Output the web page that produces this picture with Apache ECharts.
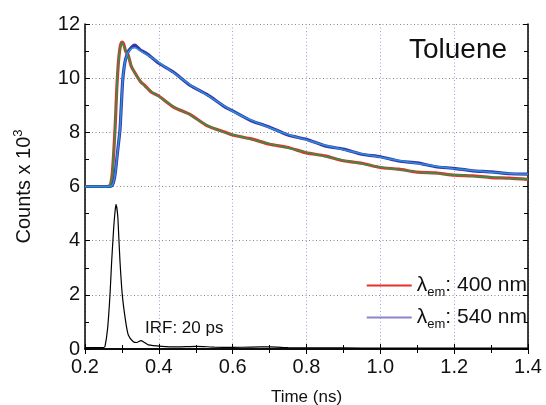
<!DOCTYPE html>
<html>
<head>
<meta charset="utf-8">
<script src="https://cdn.jsdelivr.net/npm/echarts@6/dist/echarts.min.js"></script>
<style>html,body{margin:0;padding:0;background:#fff;}#c{width:546px;height:405px;}</style>
</head>
<body>
<div id="c"></div>
<script>
// Emission at 400 nm: fit (green) and data (red)
var t400 = [0.20, 0.26, 0.266, 0.270, 0.274, 0.278, 0.282, 0.286, 0.290, 0.294, 0.298, 0.301, 0.305, 0.310, 0.317, 0.325, 0.335, 0.35, 0.3625, 0.38, 0.40, 0.44, 0.4844, 0.53, 0.58, 0.60, 0.65, 0.70, 0.75, 0.80, 0.85, 0.90, 0.95, 1.00, 1.05, 1.10, 1.15, 1.20, 1.25, 1.30, 1.35, 1.40];
var fit400 = [6.0, 6.0, 6.02, 6.12, 6.5, 7.3, 8.3, 9.6, 10.5, 11.0, 11.27, 11.31, 11.2, 11.02, 10.8, 10.5, 10.18, 9.9, 9.69, 9.5, 9.32, 8.95, 8.64, 8.27, 7.98, 7.92, 7.74, 7.58, 7.42, 7.26, 7.11, 6.97, 6.84, 6.72, 6.62, 6.54, 6.48, 6.43, 6.38, 6.34, 6.30, 6.27];
var data400 = [6.0, 6.0, 6.02, 6.12, 6.5, 7.3, 8.3, 9.6, 10.5, 11.05, 11.3, 11.33, 11.25, 11.0, 10.85, 10.45, 10.2, 9.88, 9.72, 9.48, 9.34, 8.93, 8.66, 8.25, 8.0, 7.9, 7.76, 7.56, 7.44, 7.24, 7.13, 6.95, 6.86, 6.7, 6.64, 6.53, 6.5, 6.42, 6.39, 6.33, 6.31, 6.26];
// Emission at 540 nm: fit (light blue) and data (dark blue)
var t540 = [0.20, 0.268, 0.274, 0.278, 0.282, 0.286, 0.290, 0.2948, 0.298, 0.302, 0.306, 0.31, 0.317, 0.3265, 0.335, 0.349, 0.37, 0.40, 0.44, 0.4844, 0.53, 0.58, 0.60, 0.65, 0.70, 0.75, 0.80, 0.85, 0.90, 0.95, 1.00, 1.05, 1.10, 1.15, 1.20, 1.25, 1.30, 1.35, 1.40];
var fit540 = [6.0, 6.0, 6.05, 6.2, 6.5, 7.0, 7.5, 8.1, 8.9, 9.9, 10.4, 10.68, 10.95, 11.1, 11.12, 11.02, 10.85, 10.58, 10.2, 9.76, 9.38, 8.95, 8.77, 8.45, 8.17, 7.92, 7.72, 7.52, 7.36, 7.21, 7.08, 6.96, 6.85, 6.75, 6.66, 6.59, 6.53, 6.48, 6.45];
var data540 = [6.0, 6.0, 6.05, 6.2, 6.5, 7.0, 7.5, 8.1, 8.9, 9.9, 10.4, 10.7, 10.98, 11.15, 11.22, 11.05, 10.88, 10.55, 10.22, 9.74, 9.4, 8.93, 8.79, 8.43, 8.19, 7.9, 7.74, 7.5, 7.38, 7.19, 7.1, 6.94, 6.87, 6.73, 6.67, 6.58, 6.54, 6.47, 6.46];
// Instrument response function
var tIRF = [0.20, 0.25, 0.2542, 0.2614, 0.2677, 0.2722, 0.2777, 0.2813, 0.284, 0.2885, 0.2913, 0.2948, 0.301, 0.3102, 0.3173, 0.3308, 0.34, 0.3517, 0.36, 0.3715, 0.4078, 0.45, 0.50, 0.55, 0.60, 0.65, 0.70, 0.75, 0.80, 0.90, 1.00, 1.20, 1.40];
var irf = [0.05, 0.05, 0.1, 0.78, 2.0, 3.23, 4.47, 5.07, 5.34, 4.95, 4.21, 3.23, 2.0, 1.01, 0.52, 0.27, 0.24, 0.31, 0.25, 0.15, 0.1, 0.08, 0.1, 0.07, 0.06, 0.07, 0.08, 0.05, 0.04, 0.04, 0.03, 0.03, 0.03];
var xTicks = [0.2, 0.4, 0.6, 0.8, 1.0, 1.2, 1.4];
var yTicks = [0, 2, 4, 6, 8, 10, 12];

function pairs(t, v) { return t.map(function (x, i) { return [x, v[i]]; }); }

var FONT = 'Liberation Sans, Arial, sans-serif';
var chart = echarts.init(document.getElementById('c'), null, { renderer: 'canvas' });
var legendRich = {
  l: { fontSize: 21, fontFamily: FONT, color: '#111' },
  s: { fontSize: 13, fontFamily: FONT, color: '#111', padding: [14, 0, 0, 0] },
  t: { fontSize: 21, fontFamily: FONT, color: '#111' }
};
var mirror = { show: true, lineStyle: { color: '#000', width: 1.5 } };
chart.setOption({
  animation: false,
  backgroundColor: '#fff',
  grid: { left: 85, right: 18, top: 24, bottom: 56, containLabel: false, outerBoundsMode: 'none' },
  legend: {
    orient: 'vertical', right: 19, top: 275, padding: 0, itemGap: 8,
    itemWidth: 45, itemHeight: 2, icon: 'rect',
    data: [
      { name: 'λem: 400 nm', itemStyle: { color: '#e8302a' } },
      { name: 'λem: 540 nm', itemStyle: { color: '#8a84cc' } }
    ],
    formatter: function (n) { return '{l|λ}{s|em}{t|: ' + n.split(': ')[1] + '}'; },
    textStyle: { rich: legendRich }
  },
  xAxis: [{
    type: 'value', min: 0.2, max: 1.4, interval: 0.2, position: 'bottom',
    name: 'Time (ns)', nameLocation: 'middle', nameGap: 40,
    nameTextStyle: { fontSize: 17, fontFamily: FONT, color: '#111' },
    axisLine: { lineStyle: { color: '#000', width: 1.5 } },
    axisTick: { inside: true, length: 5, lineStyle: { color: '#000', width: 1 } },
    minorTick: { show: true, splitNumber: 2, length: 4, lineStyle: { color: '#000' } },
    axisLabel: { fontSize: 20, fontFamily: FONT, color: '#111', margin: 8, formatter: function (v) { return v.toFixed(1); } },
    splitLine: { show: true, lineStyle: { color: '#a0a0d8', type: [1, 2.5], width: 1 } }
  }, {
    type: 'value', min: 0.2, max: 1.4, interval: 0.2, position: 'top',
    axisLine: mirror,
    axisTick: { show: true, inside: true, length: 5, lineStyle: { color: '#000' } },
    minorTick: { show: true, splitNumber: 2, length: 4, lineStyle: { color: '#000' } },
    axisLabel: { show: false }, splitLine: { show: false }
  }],
  yAxis: [{
    type: 'value', min: 0, max: 12, interval: 2, position: 'left',
    name: '{a|Counts x 10}{b|3}', nameLocation: 'middle', nameGap: 48,
    nameTextStyle: { rich: {
      a: { fontSize: 20, fontFamily: FONT, color: '#111' },
      b: { fontSize: 13, fontFamily: FONT, color: '#111', padding: [0, 0, 12, 0] }
    } },
    axisLine: { show: true, lineStyle: { color: '#000', width: 1.5 } },
    axisTick: { inside: true, length: 5, lineStyle: { color: '#000' } },
    minorTick: { show: true, splitNumber: 2, length: 4, lineStyle: { color: '#000' } },
    axisLabel: { fontSize: 20, fontFamily: FONT, color: '#111', margin: 5 },
    splitLine: { show: true, lineStyle: { color: '#888', type: [1, 2.5], width: 1 } }
  }, {
    type: 'value', min: 0, max: 12, interval: 2, position: 'right',
    axisLine: mirror,
    axisTick: { show: true, inside: true, length: 5, lineStyle: { color: '#000' } },
    minorTick: { show: true, splitNumber: 2, length: 4, lineStyle: { color: '#000' } },
    axisLabel: { show: false }, splitLine: { show: false }
  }],
  graphic: [
    { type: 'text', x: 458, y: 50, style: { text: 'Toluene', fontSize: 28, fontFamily: FONT, fill: '#111', align: 'center', verticalAlign: 'middle' } },
    { type: 'text', x: 145, y: 328, style: { text: 'IRF: 20 ps', fontSize: 17, fontFamily: FONT, fill: '#111', align: 'left', verticalAlign: 'middle' } }
  ],
  series: [
    { name: 'λem: 400 nm', type: 'line', showSymbol: false, smooth: 0.2, data: pairs(t400, data400),
      lineStyle: { color: '#e8302a', width: 3.2 }, itemStyle: { color: '#e8302a' }, z: 2 },
    { name: 'λem: 540 nm', type: 'line', showSymbol: false, smooth: 0.2, data: pairs(t540, data540),
      lineStyle: { color: '#3a36a8', width: 3.2 }, itemStyle: { color: '#3a36a8' }, z: 2 },
    { name: 'fit 400', type: 'line', showSymbol: false, smooth: 0.2, data: pairs(t400, fit400),
      lineStyle: { color: '#1f9a4a', width: 1.5 }, z: 3 },
    { name: 'fit 540', type: 'line', showSymbol: false, smooth: 0.2, data: pairs(t540, fit540),
      lineStyle: { color: '#2a90dc', width: 1.5 }, z: 3 },
    { name: 'IRF', type: 'line', showSymbol: false, smooth: 0.2, data: pairs(tIRF, irf),
      lineStyle: { color: '#000', width: 1.2 }, z: 4 }
  ]
});
</script>
</body>
</html>
